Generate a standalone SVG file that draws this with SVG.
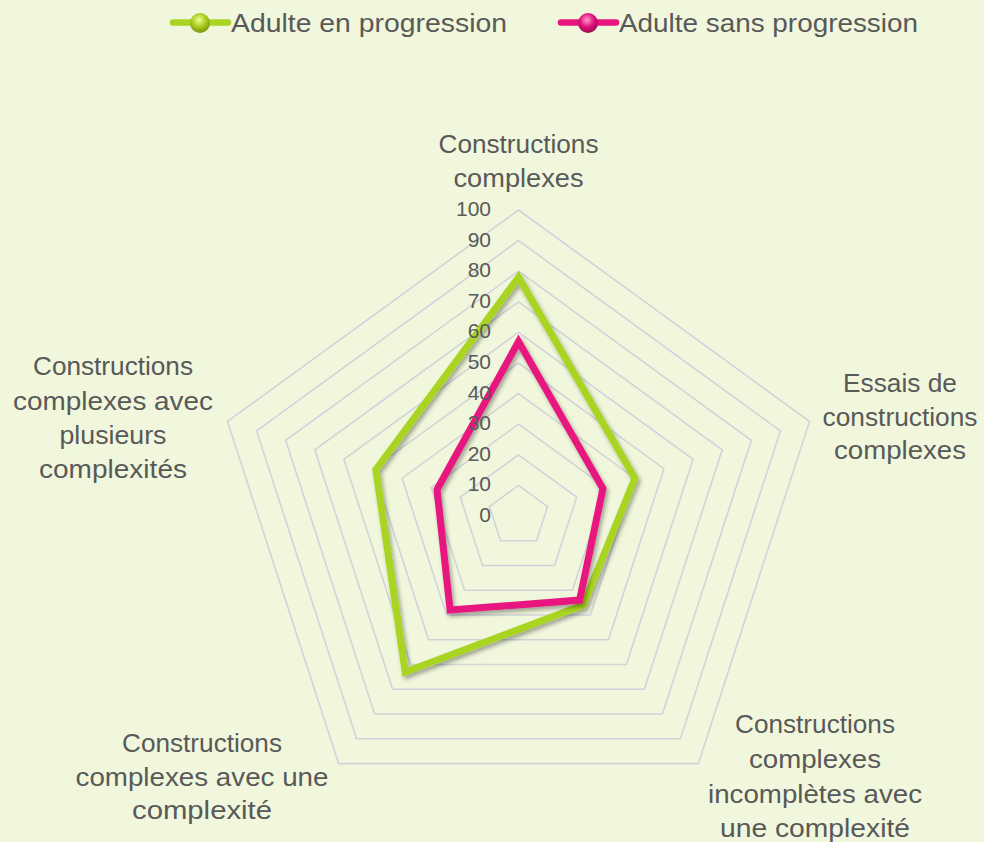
<svg xmlns="http://www.w3.org/2000/svg" width="984" height="842" viewBox="0 0 984 842">
<style>
.bg{fill:#F1F7DC}
.grid{fill:none;stroke:#D2D3D9;stroke-width:1.6}
.lbl{font-family:"Liberation Sans",Arial,sans-serif;font-size:26px;fill:#595959;text-anchor:middle}
.tick{font-family:"Liberation Sans",Arial,sans-serif;font-size:21px;fill:#595959;text-anchor:end}
.leg{font-family:"Liberation Sans",Arial,sans-serif;font-size:26px;fill:#595959}
.s1{fill:none;stroke:#A9D422;stroke-width:7;stroke-linejoin:miter}
.s2{fill:none;stroke:#E8157F;stroke-width:7;stroke-linejoin:miter}
</style>
<defs>
<filter id="sh" x="-20%" y="-20%" width="140%" height="140%">
<feDropShadow dx="2" dy="3" stdDeviation="2.2" flood-color="#000" flood-opacity="0.35"/>
</filter>
<radialGradient id="gBall" cx="0.45" cy="0.35" r="0.7">
<stop offset="0" stop-color="#EEFF9A"/>
<stop offset="0.5" stop-color="#A9CC1C"/>
<stop offset="1" stop-color="#6F8C0C"/>
</radialGradient>
<radialGradient id="pBall" cx="0.45" cy="0.35" r="0.7">
<stop offset="0" stop-color="#FF9ACB"/>
<stop offset="0.5" stop-color="#E0127A"/>
<stop offset="1" stop-color="#8A0A4A"/>
</radialGradient>
</defs>
<rect class="bg" x="0" y="0" width="984" height="842"/>

<g id="legend">
<g id="legend-progression">
<line x1="173" y1="22.5" x2="228" y2="22.5" stroke="#A9D422" stroke-width="6.5" stroke-linecap="round"/>
<circle cx="200" cy="23" r="10" fill="url(#gBall)"/>
<text class="leg" x="231" y="32" textLength="276" lengthAdjust="spacingAndGlyphs">Adulte en progression</text>
</g>
<g id="legend-sans">
<line x1="561" y1="22.5" x2="616" y2="22.5" stroke="#E8157F" stroke-width="6.5" stroke-linecap="round"/>
<circle cx="588" cy="23" r="10" fill="url(#pBall)"/>
<text class="leg" x="619" y="32" textLength="299" lengthAdjust="spacingAndGlyphs">Adulte sans progression</text>
</g>
</g>

<g id="grid">
<polygon class="grid" points="518.5,485.4 547.6,506.5 536.5,540.8 500.5,540.8 489.4,506.5"/>
<polygon class="grid" points="518.5,454.8 576.7,497.1 554.5,565.5 482.5,565.5 460.3,497.1"/>
<polygon class="grid" points="518.5,424.2 605.8,487.6 572.5,590.3 464.5,590.3 431.2,487.6"/>
<polygon class="grid" points="518.5,393.6 634.9,478.2 590.4,615.0 446.6,615.0 402.1,478.2"/>
<polygon class="grid" points="518.5,363.0 664.0,468.7 608.4,639.8 428.6,639.8 373.0,468.7"/>
<polygon class="grid" points="518.5,332.4 693.1,459.3 626.4,664.5 410.6,664.5 343.9,459.3"/>
<polygon class="grid" points="518.5,301.8 722.2,449.8 644.4,689.3 392.6,689.3 314.8,449.8"/>
<polygon class="grid" points="518.5,271.2 751.3,440.4 662.4,714.0 374.6,714.0 285.7,440.4"/>
<polygon class="grid" points="518.5,240.6 780.4,430.9 680.4,738.8 356.6,738.8 256.6,430.9"/>
<polygon class="grid" points="518.5,210.0 809.5,421.4 698.4,763.6 338.6,763.6 227.5,421.4"/>
</g>

<g id="series">
<polygon id="series-progression" class="s1" filter="url(#sh)" points="518.5,277.3 634.9,478.2 583.3,605.1 405.2,672.0 375.9,469.7"/>
<polygon id="series-sans" class="s2" filter="url(#sh)" points="518.5,341.6 602.9,488.6 579.6,600.1 450.1,610.1 437.0,489.5"/>
</g>

<g id="ticks">
<text class="tick" x="491" y="522">0</text>
<text class="tick" x="491" y="491.4">10</text>
<text class="tick" x="491" y="460.8">20</text>
<text class="tick" x="491" y="430.2">30</text>
<text class="tick" x="491" y="399.6">40</text>
<text class="tick" x="491" y="369">50</text>
<text class="tick" x="491" y="338.4">60</text>
<text class="tick" x="491" y="307.8">70</text>
<text class="tick" x="491" y="277.2">80</text>
<text class="tick" x="491" y="246.6">90</text>
<text class="tick" x="491" y="216">100</text>
</g>

<g id="axis-top">
<text class="lbl" x="518.5" y="153" textLength="160" lengthAdjust="spacingAndGlyphs">Constructions</text>
<text class="lbl" x="518.5" y="187" textLength="130" lengthAdjust="spacingAndGlyphs">complexes</text>
</g>
<g id="axis-right">
<text class="lbl" x="900" y="392" textLength="114" lengthAdjust="spacingAndGlyphs">Essais de</text>
<text class="lbl" x="900" y="425.5" textLength="155" lengthAdjust="spacingAndGlyphs">constructions</text>
<text class="lbl" x="900" y="459" textLength="132" lengthAdjust="spacingAndGlyphs">complexes</text>
</g>
<g id="axis-lower-right">
<text class="lbl" x="815" y="733" textLength="160" lengthAdjust="spacingAndGlyphs">Constructions</text>
<text class="lbl" x="815" y="768" textLength="132" lengthAdjust="spacingAndGlyphs">complexes</text>
<text class="lbl" x="815" y="803" textLength="214" lengthAdjust="spacingAndGlyphs">incomplètes avec</text>
<text class="lbl" x="815" y="837" textLength="190" lengthAdjust="spacingAndGlyphs">une complexité</text>
</g>
<g id="axis-lower-left">
<text class="lbl" x="202" y="752" textLength="160" lengthAdjust="spacingAndGlyphs">Constructions</text>
<text class="lbl" x="202" y="786" textLength="253" lengthAdjust="spacingAndGlyphs">complexes avec une</text>
<text class="lbl" x="202" y="819" textLength="140" lengthAdjust="spacingAndGlyphs">complexité</text>
</g>
<g id="axis-upper-left">
<text class="lbl" x="113" y="375" textLength="160" lengthAdjust="spacingAndGlyphs">Constructions</text>
<text class="lbl" x="113" y="409.5" textLength="200" lengthAdjust="spacingAndGlyphs">complexes avec</text>
<text class="lbl" x="113" y="444" textLength="107" lengthAdjust="spacingAndGlyphs">plusieurs</text>
<text class="lbl" x="113" y="478" textLength="148" lengthAdjust="spacingAndGlyphs">complexités</text>
</g>
</svg>
